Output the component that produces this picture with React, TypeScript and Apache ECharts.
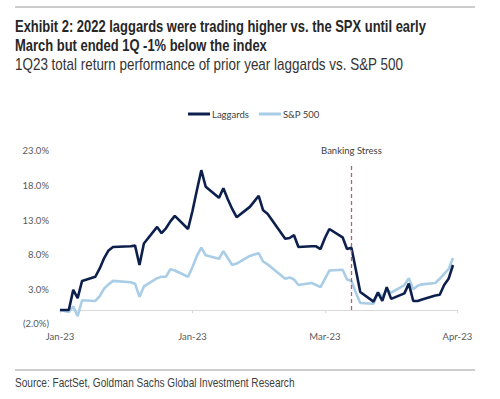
import React, { useEffect, useRef } from "react";
import * as echarts from "echarts";

const titleLines = [
  "Exhibit 2: 2022 laggards were trading higher vs. the SPX until early",
  "March but ended 1Q -1% below the index",
];
const subtitle = "1Q23 total return performance of prior year laggards vs. S&P 500";
const sourceText = "Source: FactSet, Goldman Sachs Global Investment Research";

const seriesNames = ["Laggards", "S&P 500"];
const xTickLabels = ["Jan-23", "Jan-23", "Mar-23", "Apr-23"];
const axisStartDate = "2023-01-01";
const bankingStressDate = "2023-03-08";
const bankingStressLabel = "Banking Stress";

const dates = [
  "2023-01-01", "2023-01-03", "2023-01-04", "2023-01-05", "2023-01-06",
  "2023-01-09", "2023-01-10", "2023-01-11", "2023-01-12", "2023-01-13",
  "2023-01-17", "2023-01-18", "2023-01-19", "2023-01-20",
  "2023-01-23", "2023-01-24", "2023-01-25", "2023-01-26", "2023-01-27",
  "2023-01-30", "2023-01-31", "2023-02-01", "2023-02-02", "2023-02-03",
  "2023-02-06", "2023-02-07", "2023-02-08", "2023-02-09", "2023-02-10",
  "2023-02-13", "2023-02-14", "2023-02-15", "2023-02-16", "2023-02-17",
  "2023-02-21", "2023-02-22", "2023-02-23", "2023-02-24",
  "2023-02-27", "2023-02-28", "2023-03-01", "2023-03-02", "2023-03-03",
  "2023-03-06", "2023-03-07", "2023-03-08", "2023-03-09", "2023-03-10",
  "2023-03-13", "2023-03-14", "2023-03-15", "2023-03-16", "2023-03-17",
  "2023-03-20", "2023-03-21", "2023-03-22", "2023-03-23", "2023-03-24",
  "2023-03-27", "2023-03-28", "2023-03-29", "2023-03-30", "2023-03-31",
];

const laggards = [
  0, 0, 2.9, 1.7, 4.2,
  4.8, 6.0, 7.5, 8.6, 9.1,
  9.2, 9.3, 6.5, 9.6,
  12.0, 11.1, 11.8, 12.8, 13.6,
  11.7, 14.3, 17.3, 20.2, 17.8,
  16.2, 17.6, 16.0, 14.6, 13.4,
  14.9, 15.7, 16.5, 14.4, 13.9,
  10.3, 10.4, 10.8, 9.1,
  9.2, 9.2, 8.8, 10.4, 11.7,
  10.5, 8.8, 9.0, 5.8, 2.6,
  1.2, 2.5, 1.3, 3.3, 1.6,
  2.4, 3.8, 1.3, 1.3, 1.5,
  2.1, 2.2, 3.6, 4.5, 6.5,
];

const sp500 = [
  0, -0.3, 0.5, -0.9, 1.4,
  1.3, 2.0, 3.1, 3.7, 4.2,
  4.0, 3.8, 1.9, 3.4,
  4.6, 4.8, 4.8, 5.9, 5.7,
  4.8, 6.2, 7.8, 9.0, 7.9,
  7.4, 8.5, 7.5, 6.5, 6.7,
  7.8, 8.0, 8.2, 7.0, 6.6,
  4.5, 4.7, 4.4, 3.6,
  3.9, 3.6, 3.3, 4.5, 5.7,
  5.8, 4.4, 4.2, 2.5, 1.0,
  0.9, 2.6, 1.9, 2.9, 2.5,
  3.6, 4.6, 3.0, 3.5, 3.7,
  3.9, 4.5, 5.2, 5.9, 7.5,
];

const DAY = 86400000;
const dayOf = (d: string) =>
  Math.round((Date.parse(d + "T00:00:00Z") - Date.parse(axisStartDate + "T00:00:00Z")) / DAY);

const HEAD_FONT = "'Liberation Sans', Arial, sans-serif";
const CHART_FONT = "Lato, 'Open Sans', sans-serif";

export default function App() {
  const ref = useRef<HTMLDivElement>(null);

  useEffect(() => {
    if (!ref.current) return;
    const chart = echarts.init(ref.current, undefined, { renderer: "svg" });
    const days = dates.map(dayOf);
    const stressDay = dayOf(bankingStressDate);
    const fmtY = (v: number) => (v < 0 ? `(${Math.abs(v).toFixed(1)}%)` : `${v.toFixed(1)}%`);

    const headText = (text: string, y: number, size: number, weight: string, color: string, sx: number) => ({
      type: "text",
      x: 15,
      y,
      scaleX: sx,
      style: {
        text,
        fontFamily: HEAD_FONT,
        fontSize: size,
        fontWeight: weight,
        fill: color,
        verticalAlign: "middle",
        align: "left",
      },
    });

    chart.setOption({
      animation: false,
      backgroundColor: "#ffffff",
      textStyle: { fontFamily: CHART_FONT },
      graphic: [
        { type: "line", shape: { x1: 15, y1: 7, x2: 475, y2: 7 }, style: { stroke: "#9a9a9a", lineWidth: 1.2 } },
        { type: "line", shape: { x1: 15, y1: 370, x2: 475, y2: 370 }, style: { stroke: "#9a9a9a", lineWidth: 1.2 } },
        headText(titleLines[0], 27, 16, "bold", "#262626", 0.81),
        headText(titleLines[1], 46, 16, "bold", "#262626", 0.81),
        headText(subtitle, 65, 16, "normal", "#333333", 0.84),
        headText(sourceText, 383, 12, "normal", "#404040", 0.84),
      ],
      legend: {
        data: seriesNames,
        left: 183,
        top: 104,
        icon: "rect",
        itemWidth: 22,
        itemHeight: 3,
        itemGap: 10,
        textStyle: { fontSize: 9.5, color: "#404040", padding: [0, 0, 0, -3], fontFamily: CHART_FONT },
      },
      grid: { left: 60, right: 42.6, top: 150.8, bottom: 75.2, containLabel: false },
      xAxis: [
        {
          type: "value",
          min: 0,
          max: 90,
          interval: 30,
          position: "bottom",
          axisLine: { show: false, onZero: false },
          axisTick: { show: false },
          splitLine: { show: false },
          axisLabel: {
            margin: 8,
            fontSize: 9.5,
            color: "#595959",
            formatter: (v: number) => xTickLabels[Math.round(v / 30)] ?? "",
          },
        },
        {
          type: "value",
          min: 0,
          max: 90,
          interval: 30,
          position: "bottom",
          axisLine: { show: true, onZero: true, lineStyle: { color: "#d9d9d9", width: 1 } },
          axisTick: { show: true, length: 3, lineStyle: { color: "#d9d9d9" } },
          axisLabel: { show: false },
          splitLine: { show: false },
        },
      ],
      yAxis: {
        type: "value",
        min: -2,
        max: 23,
        interval: 5,
        axisLine: { show: false },
        axisTick: { show: false },
        splitLine: { show: false },
        axisLabel: { margin: 11, fontSize: 9.5, color: "#595959", formatter: fmtY },
      },
      series: [
        {
          name: seriesNames[1],
          type: "line",
          xAxisIndex: 0,
          data: days.map((d, i) => [d, sp500[i]]),
          showSymbol: false,
          symbol: "none",
          lineStyle: { color: "#a9cde6", width: 2.6 },
          itemStyle: { color: "#a9cde6" },
          z: 2,
        },
        {
          name: seriesNames[0],
          type: "line",
          xAxisIndex: 0,
          data: days.map((d, i) => [d, laggards[i]]),
          showSymbol: false,
          symbol: "none",
          lineStyle: { color: "#0d1f4c", width: 2.6 },
          itemStyle: { color: "#0d1f4c" },
          z: 3,
          markLine: {
            silent: true,
            symbol: ["none", "none"],
            lineStyle: { color: "#b5606e", type: [4, 3], width: 1.3 },
            label: {
              show: true,
              position: "end",
              distance: 8,
              formatter: bankingStressLabel,
              fontSize: 9.5,
              color: "#404040",
              fontFamily: CHART_FONT,
            },
            data: [[{ coord: [stressDay, 0] }, { coord: [stressDay, 21.2] }]],
          },
        },
      ],
    });

    return () => chart.dispose();
  }, []);

  return (
    <div
      ref={ref}
      style={{ position: "fixed", left: 0, top: 0, width: 500, height: 399, background: "#fff" }}
    />
  );
}
